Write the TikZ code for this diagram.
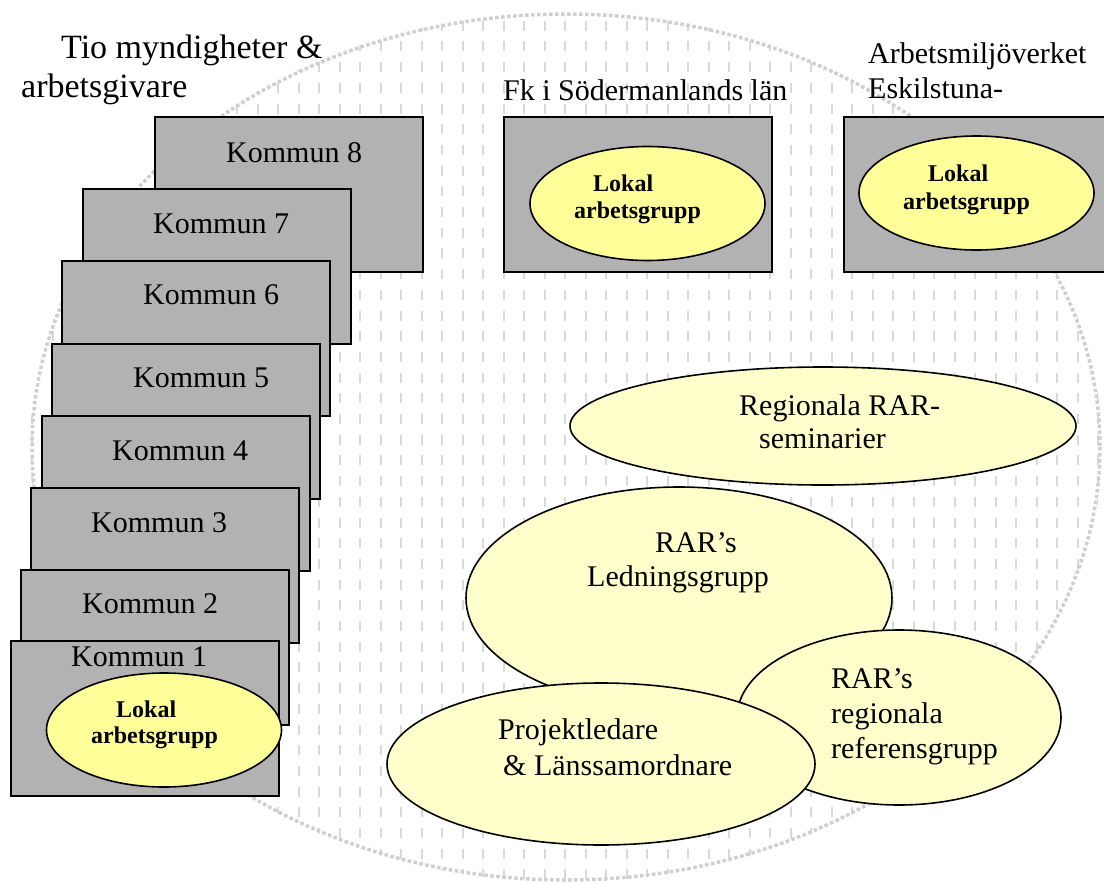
\documentclass[tikz,border=0pt]{standalone}
\usepackage{fontspec}
\setmainfont{Liberation Serif}
\usetikzlibrary{shapes.geometric}
\definecolor{boxgrey}{HTML}{B2B2B2}
\definecolor{lokalyellow}{HTML}{FFFF99}
\definecolor{paleyellow}{HTML}{FFFFCC}
\definecolor{patgrey}{HTML}{D9D9D9}
\definecolor{rimgrey}{HTML}{CFCFCF}
\begin{document}
\begin{tikzpicture}[x=1pt,y=-1pt,
  kbox/.style={rectangle, draw=black, line width=1.6pt, fill=boxgrey, minimum width=268pt, minimum height=155pt, inner sep=0pt, anchor=north west},
  lokal/.style={ellipse, draw=black, line width=1.6pt, fill=lokalyellow, minimum width=235pt, minimum height=114pt, inner sep=0pt},
  bigell/.style={ellipse, draw=black, line width=1.6pt, fill=paleyellow, inner sep=0pt},
  txt/.style={font=\fontsize{30}{36}\selectfont, anchor=base west, inner sep=0pt},
  btxt/.style={font=\bfseries\fontsize{24}{28}\selectfont, anchor=base west, inner sep=0pt},
  ttl/.style={font=\fontsize{34}{40}\selectfont, anchor=base west, inner sep=0pt}]
\useasboundingbox (0,0) rectangle (1104,884);
% background pattern ellipse
\begin{scope}
  \clip (566,447) ellipse [x radius=536, y radius=435];
  \foreach \x in {32,52.5,...,1110}
    \draw[patgrey, line width=2pt, dash pattern=on 10pt off 10.7pt] (\x,0) -- (\x,884);
\end{scope}
\draw[rimgrey, line width=3.5pt, dash pattern=on 3.5pt off 2.5pt] (566,447) ellipse [x radius=534, y radius=433];

% titles
\node[ttl] (t1) at (61,58) {Tio myndigheter \&};
\node[ttl] (t2) at (21,97) {arbetsgivare};
\node[txt] (t3) at (503,100) {Fk i Södermanlands län};
\node[txt] (t4) at (868,63) {Arbetsmiljöverket};
\node[txt] (t5) at (868,98) {Eskilstuna-};

% kommun stack
\node[kbox] (k8) at (154,116) {};
\node[txt] (l8) at (226,162) {Kommun 8};
\node[kbox] (k7) at (82,188) {};
\node[txt] (l7) at (153,233) {Kommun 7};
\node[kbox] (k6) at (61,260) {};
\node[txt] (l6) at (143,304) {Kommun 6};
\node[kbox] (k5) at (51,343) {};
\node[txt] (l5) at (133,387) {Kommun 5};
\node[kbox] (k4) at (41,415) {};
\node[txt] (l4) at (112,460) {Kommun 4};
\node[kbox] (k3) at (30,487) {};
\node[txt] (l3) at (91,532) {Kommun 3};
\node[kbox] (k2) at (20,569) {};
\node[txt] (l2) at (82,613) {Kommun 2};
\node[kbox] (k1) at (10,640) {};
\node[txt] (l1) at (71,666) {Kommun 1};
\node[lokal] (e1) at (164,730) {};
\node[btxt] (e1a) at (116,717) {Lokal};
\node[btxt] (e1b) at (91,743) {arbetsgrupp};

% Fk box
\node[kbox] (fk) at (503,116) {};
\node[lokal] (e2) at (647.5,203.5) {};
\node[btxt] (e2a) at (593,191) {Lokal};
\node[btxt] (e2b) at (574,218) {arbetsgrupp};

% Arbetsmiljoverket box
\node[kbox] (av) at (843,116) {};
\node[lokal] (e3) at (976.5,193) {};
\node[btxt] (e3a) at (928,181) {Lokal};
\node[btxt] (e3b) at (903,209) {arbetsgrupp};

% big ellipses
\node[bigell, minimum width=506pt, minimum height=118pt] (reg) at (823,426) {};
\node[txt] (rega) at (739,415) {Regionala RAR-};
\node[txt] (regb) at (759,448) {seminarier};

\node[bigell, minimum width=426pt, minimum height=222pt] (led) at (679,598) {};
\node[txt] (leda) at (655,552) {RAR’s};
\node[txt] (ledb) at (587,586) {Ledningsgrupp};

\node[bigell, minimum width=324pt, minimum height=175pt] (ref) at (899,717.5) {};
\node[txt] (refa) at (831,688) {RAR’s};
\node[txt] (refb) at (831,723) {regionala};
\node[txt] (refc) at (831,758) {referensgrupp};

\node[bigell, minimum width=428pt, minimum height=162pt] (proj) at (601,764) {};
\node[txt] (proja) at (498,739) {Projektledare};
\node[txt] (projb) at (503,775) {\& Länssamordnare};
\end{tikzpicture}
\end{document}
